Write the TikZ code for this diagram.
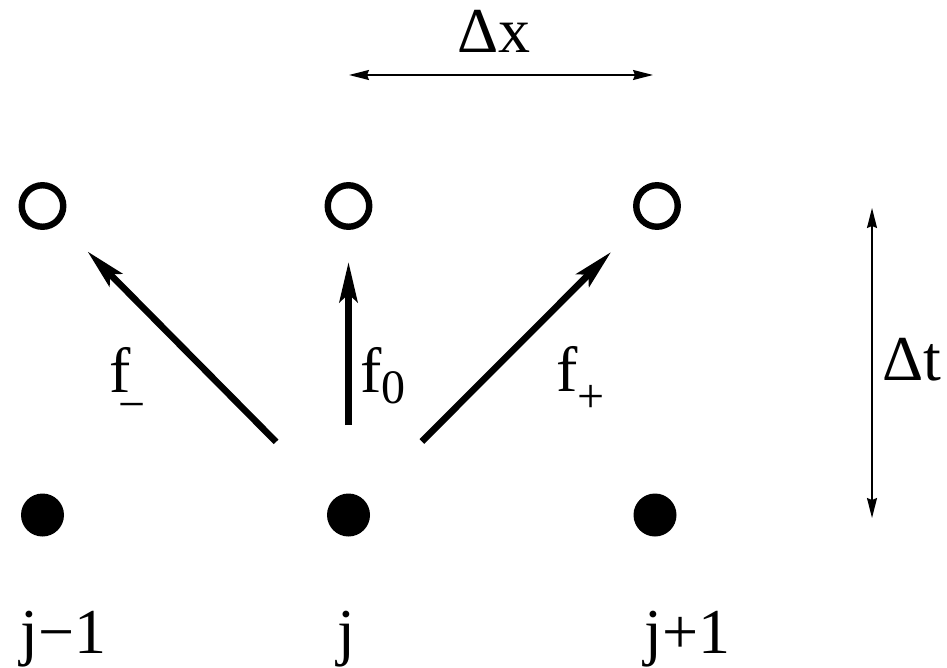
\documentclass[tikz,border=0pt]{standalone}
\usepackage{fontspec}
\setmainfont{Liberation Serif}
\usetikzlibrary{arrows.meta,positioning,calc}
\newcommand{\lowsub}[2]{\raisebox{#1}{\fontsize{24}{28}\selectfont #2}}

\begin{document}
\begin{tikzpicture}[
    x=0.5pt, y=-0.5pt,
    every node/.style={font=\fontsize{32}{38}\selectfont, inner sep=0pt},
    newpt/.style={circle, draw, line width=3.2pt, minimum size=20.75pt},
    oldpt/.style={circle, fill, minimum size=21.5pt},
    lbl/.style={anchor=base west},
    flux/.style={line width=3.3pt, -{Stealth[length=20pt,width=9pt,inset=4pt]}},
    span/.style={line width=0.75pt,
      {Stealth[length=10pt,width=5pt,inset=1pt]}-{Stealth[length=10pt,width=5pt,inset=1pt]}}
  ]
  \useasboundingbox (0,0) rectangle (947,668);

  % new time level
  \node[newpt] (t1) at (42.5,206) {};
  \node[newpt] (t2) at (348.5,206) {};
  \node[newpt] (t3) at (657,206) {};

  % old time level
  \node[oldpt] (b1) at (42.5,515) {};
  \node[oldpt] (b2) at (348.5,515) {};
  \node[oldpt] (b3) at (655,515) {};

  % fluxes
  \draw[flux, shorten <=40.5pt, shorten >=20pt] (b2) -- (t1);
  \draw[flux, shorten <=34pt, shorten >=16pt] (b2) -- (t2);
  \draw[flux, shorten <=41pt, shorten >=20.5pt] (b2) -- (t3);
  \node[lbl] (fm) at (109,392) {f\kern-6.25pt\lowsub{-14pt}{−}};
  \node[lbl] (f0) at (360,392) {f\lowsub{-5.5pt}{0}};
  \node[lbl] (fp) at (556,391) {f\lowsub{-10.5pt}{+}};

  % grid spacing
  \coordinate (xl) at (349,75);
  \coordinate (xr) at (653,75);
  \draw[span] (xl) -- (xr);
  \node[lbl] (dx) at (457,53) {Δx};
  \coordinate (ta) at (872,208);
  \coordinate (tb) at (872,518);
  \draw[span] (ta) -- (tb);
  \node[lbl] (dt) at (882,380) {Δt};

  % indices
  \node[lbl] (j1) at (20,653) {j−1};
  \node[lbl] (j2) at (337.5,653) {j};
  \node[lbl] (j3) at (644,653) {j+1};
\end{tikzpicture}
\end{document}
